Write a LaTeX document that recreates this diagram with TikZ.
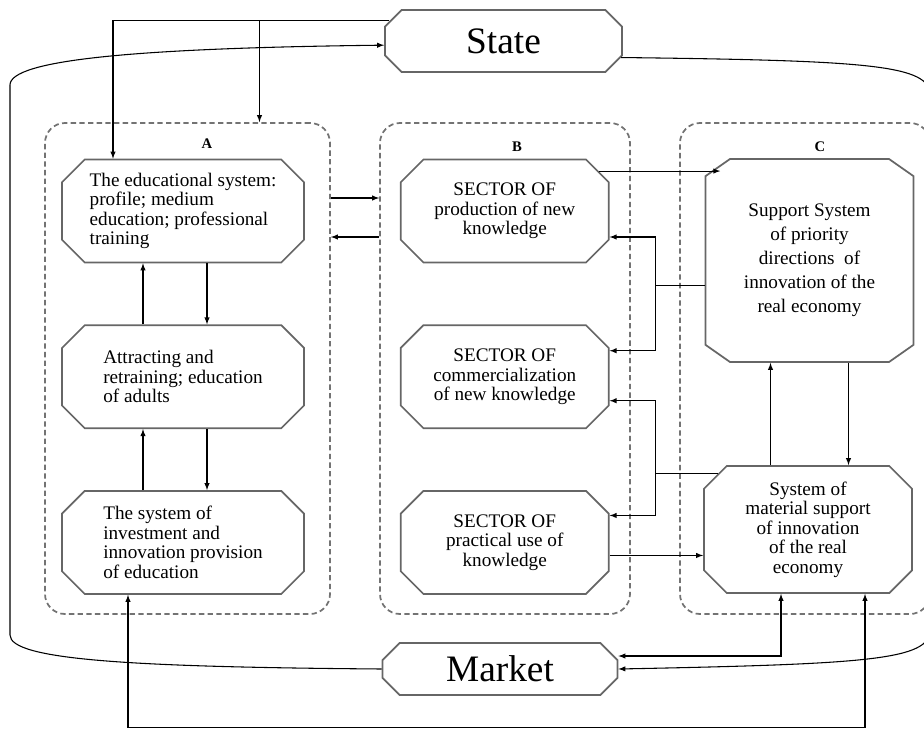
\documentclass[tikz,border=0pt]{standalone}
\usepackage{fontspec}
\setmainfont{Liberation Serif}
\usetikzlibrary{shapes}
\usetikzlibrary{calc}
\usetikzlibrary{arrows}
\usetikzlibrary{positioning}

\begin{document}
\begin{tikzpicture}[x=0.75pt,y=-0.75pt]
    \def\vgap{61}
    \def\hgap{95}
    \tikzstyle{block}=[chamfered rectangle, chamfered rectangle xsep=14pt, draw=black!60, line width=1.3pt, fill=white, inner sep=0pt, font=\fontsize{14.4}{14.6}\selectfont]
    \tikzstyle{colA}=[block, align=left, minimum width=181.5pt, minimum height=77.25pt]
    \tikzstyle{colB}=[block, align=center, minimum width=156pt, minimum height=77.25pt]
    \tikzstyle{colC}=[block, align=center, minimum width=156pt]
    \tikzstyle{actor}=[block, chamfered rectangle xsep=11pt, font=\fontsize{28}{30}\selectfont]
    \tikzstyle{group}=[draw=black!55, dash pattern=on 4pt off 2.5pt, line width=1.3pt, rounded corners=15pt, inner sep=0pt]
    \tikzstyle{caption}=[font=\fontsize{11}{13}\selectfont\bfseries]
    \tikzstyle{link}=[line width=0.8pt]
    \tikzstyle{arrow}=[-latex, line width=0.8pt]
    \tikzstyle{dblarrow}=[latex-latex, line width=0.8pt]

    \useasboundingbox (0,0) rectangle (924,731);

    % groups
    \node (Agrp) [group, minimum width=213.75pt, minimum height=368.25pt] at (187.5,368.5) {};
    \node (Bgrp) [group, minimum width=187.5pt, minimum height=368.25pt] at (505,368.5) {};
    \node (Cgrp) [group, minimum width=187.5pt, minimum height=368.25pt] at (805,368.5) {};

    % nodes
    \node (State) [actor, minimum width=177.75pt, minimum height=46.5pt] at (503.5,41) {State};
    \node (Market) [actor, minimum width=176.25pt, minimum height=39pt] at (500,669) {Market};

    \node (A1) [colA] at (183,211) {The educational system:\\profile; medium\\education; professional\\training};
    \path (A1.south)+(0,\vgap) node (A2) [colA, anchor=north] {Attracting and\\retraining; education\\of adults};
    \path (A2.south)+(0,\vgap) node (A3) [colA, anchor=north] {The system of\\investment and\\innovation provision\\of education};

    \path (A1.east)+(\hgap,0) node (B1) [colB, anchor=west] {SECTOR OF\\production of new\\knowledge};
    \path (A2.east)+(\hgap,0) node (B2) [colB, anchor=west] {SECTOR OF\\commercialization\\of new knowledge};
    \path (A3.east)+(\hgap,0) node (B3) [colB, anchor=west] {SECTOR OF\\practical use of\\knowledge};

    \node (C1) [colC, minimum height=152.25pt, chamfered rectangle angle=55, font=\fontsize{14.4}{18}\selectfont] at (809.5,260.5) {Support System\\of priority\\directions~ of\\innovation of the\\real economy};
    \node (C2) [colC, minimum height=95.25pt] at (808,529.5) {System of\\material support\\of innovation\\of the real\\economy};

    % arrows
    \coordinate (tA1) at ($(A1.north)+(-70,0)$);
    \coordinate (tAgrp) at ($(Agrp.north)+(72,0)$);
    \draw[arrow] (State.170) -| (tA1);
    \draw[arrow] (tAgrp |- State.170) -- (tAgrp);

    \draw[arrow] ($(A1.south)+(24,0)$) -- ($(A2.north)+(24,0)$);
    \draw[arrow] ($(A2.north)+(-40,0)$) -- ($(A1.south)+(-40,0)$);
    \draw[arrow] ($(A2.south)+(24,0)$) -- ($(A3.north)+(24,0)$);
    \draw[arrow] ($(A3.north)+(-40,0)$) -- ($(A2.south)+(-40,0)$);

    \coordinate (ab1) at ($(Agrp.east |- A1.center)+(0,-13)$);
    \coordinate (ab2) at ($(Bgrp.west |- A1.center)+(0,26)$);
    \draw[arrow] (ab1) -- (ab1 -| Bgrp.west);
    \draw[arrow] (ab2) -- (ab2 -| Agrp.east);

    \draw[arrow] (B1.23) -- (B1.23 -| C1.133);

    \coordinate (jC1) at ($(C1.west)+(-49,25)$);
    \draw[link] (jC1 -| C1.west) -- (jC1);
    \draw[arrow] (jC1) |- ($(B1.east)+(0,26)$);
    \draw[arrow] (jC1) |- ($(B2.east)+(0,-26)$);

    \coordinate (jC2) at (jC1 |- C2.148);
    \draw[link] (C2.148) -- (jC2);
    \draw[arrow] (jC2) |- ($(B2.east)+(0,24)$);
    \draw[arrow] (jC2) |- ($(B3.east)+(0,-27)$);

    \coordinate (b3o) at ($(B3.east)+(0,13)$);
    \draw[arrow] (b3o) -- (b3o -| C2.west);

    \coordinate (cu) at ($(C1.south)+(-39,0)$);
    \coordinate (cd) at ($(C1.south)+(39,0)$);
    \draw[arrow] (cu |- C2.north) -- (cu);
    \draw[arrow] (cd) -- (cd |- C2.north);

    \coordinate (cm) at ($(C2.south)+(-27,0)$);
    \draw[dblarrow] (cm) |- ($(Market.east)+(0,-13)$);

    \coordinate (bA) at ($(A3.south)+(-55,0)$);
    \coordinate (bC) at ($(C2.south)+(57,0)$);
    \draw[dblarrow] (bA) -- ++(0,133) -| (bC);

    % rings
    \coordinate (lt) at (10,85);
    \coordinate (lb) at (10,635);
    \draw[arrow] (Market.west) .. controls +(-250,-2) and +(0,25) .. (lb) -- (lt) .. controls +(0,-25) and +(-250,3) .. (State.182);
    \coordinate (rt) at (930,95);
    \coordinate (rb) at (930,630);
    \draw[arrow] (State.-8) .. controls +(250,3) and +(0,-30) .. (rt) -- (rb) .. controls +(0,30) and +(250,-5) .. (Market.east);

    % captions
    \node (capA) [caption] at (207,144) {A};
    \node (capB) [caption] at (517,147) {B};
    \node (capC) [caption] at (820,147) {C};
\end{tikzpicture}
\end{document}
